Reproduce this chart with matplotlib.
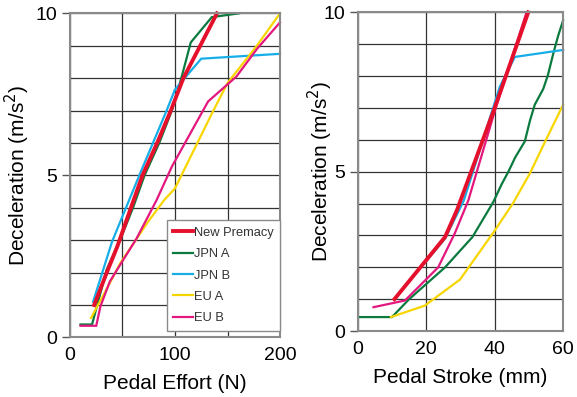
import matplotlib
matplotlib.use('Agg')
from matplotlib import pyplot as plt

plt.rcParams['font.family'] = ['Liberation Sans', 'DejaVu Sans']

# left chart: pedal effort (N) vs deceleration (m/s2)
effort_premacy = [23, 35, 45, 58, 69, 83, 96, 108, 124, 140]
decel_premacy = [1.0, 2.0, 2.8, 4.0, 5.0, 6.0, 7.0, 8.0, 9.0, 10.0]
effort_jpn_a = [10, 21, 35, 44, 47, 60, 71, 85, 97, 106, 115, 135, 161]
decel_jpn_a = [0.4, 0.4, 2.1, 2.75, 2.95, 4.0, 5.0, 6.0, 7.0, 8.0, 9.1, 9.88, 10.0]
effort_jpn_b = [22, 40, 66, 79, 92, 100, 125, 200]
decel_jpn_b = [1.1, 2.95, 5.0, 6.0, 7.0, 7.65, 8.6, 8.75]
effort_eu_a = [20, 35, 48, 75, 90, 100, 135, 150, 178, 200]
decel_eu_a = [0.6, 1.5, 2.3, 3.6, 4.25, 4.6, 6.9, 7.85, 9.0, 10.0]
effort_eu_b = [10, 25, 29, 38, 63.5, 82.5, 97, 131.5, 158.5, 178, 200]
decel_eu_b = [0.36, 0.36, 0.96, 1.73, 3.06, 4.24, 5.27, 7.28, 8.05, 8.9, 9.72]

# right chart: pedal stroke (mm) vs deceleration (m/s2)
stroke_premacy = [10.7, 25.5, 29, 40, 49.8]
sdecel_premacy = [1.0, 2.95, 3.8, 7.0, 10.0]
stroke_jpn_a = [0.7, 10, 15, 25.5, 33.5, 39.6, 42, 44, 46, 48.8, 50.3, 51.7, 54.2, 55.6, 57.1, 58.5, 60]
sdecel_jpn_a = [0.44, 0.44, 1.0, 2.0, 2.95, 4.05, 4.6, 5.0, 5.45, 5.95, 6.6, 7.1, 7.6, 8.05, 8.7, 9.25, 9.75]
stroke_jpn_b = [11.4, 25.5, 31, 41.5, 45.9, 60]
sdecel_jpn_b = [1.1, 2.9, 4.1, 7.67, 8.6, 8.82]
stroke_eu_a = [9.7, 19.6, 29.9, 40, 45.4, 50.3, 55.2, 60]
sdecel_eu_a = [0.44, 0.8, 1.62, 3.15, 4.02, 4.95, 6.05, 7.1]
stroke_eu_b = [4.6, 13.8, 23.5, 28.4, 32.3, 40.3, 49.3]
sdecel_eu_b = [0.75, 0.96, 2.0, 3.08, 4.1, 7.0, 10.0]

labels = ['New Premacy', 'JPN A', 'JPN B', 'EU A', 'EU B']
colors = ['#e5102c', '#0b7a3e', '#17aee8', '#f7d600', '#e3177d']
widths = [2.8, 1.6, 1.6, 1.6, 1.6]


def style_axes(ax, xmax, xmajor, xminor, ypad):
    ax.set_xlim(0, xmax)
    ax.set_ylim(0, 10)
    ax.set_xticks(xmajor)
    ax.set_xticks(xminor, minor=True)
    ax.set_yticks([0, 5, 10])
    ax.set_yticks(range(11), minor=True)
    ax.grid(True, which='both', color='#333333', linewidth=0.9)
    ax.set_axisbelow(True)
    ax.tick_params(axis='x', which='both', length=0, pad=7, labelsize=14)
    ax.tick_params(axis='y', which='major', length=6, width=1, color='#555555',
                   pad=3, labelsize=14)
    ax.tick_params(axis='y', which='minor', length=0)
    for sp in ax.spines.values():
        sp.set_color('#8a8a8a')
        sp.set_linewidth(1.5)
    ax.set_ylabel('Deceleration (m/s$^2$)', fontsize=15, labelpad=ypad)


fig = plt.figure(figsize=(5.77, 3.97), dpi=100)
ax1 = fig.add_axes([0.1213, 0.150, 0.364, 0.8165])
ax2 = fig.add_axes([0.620, 0.166, 0.356, 0.803])

left_data = [(effort_premacy, decel_premacy), (effort_jpn_a, decel_jpn_a),
             (effort_jpn_b, decel_jpn_b), (effort_eu_a, decel_eu_a),
             (effort_eu_b, decel_eu_b)]
right_data = [(stroke_premacy, sdecel_premacy), (stroke_jpn_a, sdecel_jpn_a),
              (stroke_jpn_b, sdecel_jpn_b), (stroke_eu_a, sdecel_eu_a),
              (stroke_eu_b, sdecel_eu_b)]

# draw thin lines first, red on top
order = [1, 2, 3, 4, 0]
handles = [None] * 5
for i in order:
    x, y = left_data[i]
    handles[i], = ax1.plot(x, y, color=colors[i], linewidth=widths[i], label=labels[i],
                           solid_joinstyle='miter', clip_on=False)
    x, y = right_data[i]
    ax2.plot(x, y, color=colors[i], linewidth=widths[i], solid_joinstyle='miter',
             clip_on=False)

style_axes(ax1, 200, [0, 100, 200], [50, 150], 3)
style_axes(ax2, 60, [0, 20, 40, 60], [], -8)
ax1.set_xlabel('Pedal Effort (N)', fontsize=15, labelpad=7)
ax2.set_xlabel('Pedal Stroke (mm)', fontsize=15, labelpad=7)

leg = ax1.legend(handles=handles, loc='lower right', bbox_to_anchor=(1.0, 0.021),
                 fontsize=9.3, handlelength=1.5, handletextpad=0.1,
                 labelspacing=0.72, borderaxespad=0, borderpad=0.5,
                 fancybox=False, framealpha=1, edgecolor='#8a8a8a')
leg.get_frame().set_linewidth(1.0)
for t in leg.get_texts():
    t.set_color('#333333')

fig.savefig('out.png', dpi=100)
